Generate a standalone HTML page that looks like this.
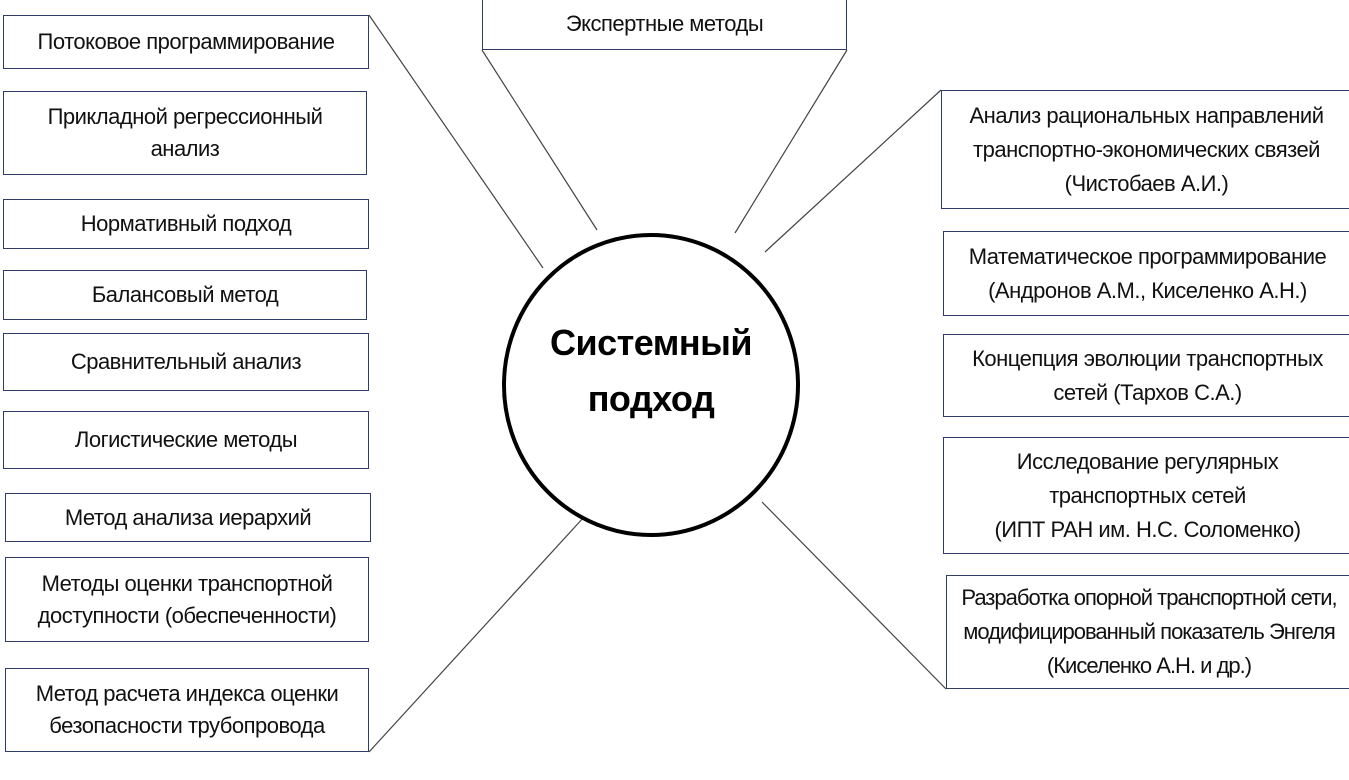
<!DOCTYPE html>
<html><head><meta charset="utf-8"><style>
body{margin:0;width:1349px;height:780px;background:#fff;position:relative;overflow:hidden;font-family:"Liberation Sans",Arial,sans-serif;}
.b{position:absolute;box-sizing:border-box;border:1.5px solid #2f3d66;background:#fff;display:flex;align-items:center;justify-content:center;text-align:center;font-size:22px;letter-spacing:-0.5px;line-height:32px;color:#111;}
.r{border-right:none;line-height:34px;}
svg{position:absolute;left:0;top:0;}
</style></head><body>
<svg width="1349" height="780">
<g stroke="#444" stroke-width="1.2">
<line x1="369" y1="15" x2="543" y2="268"/>
<line x1="482" y1="50" x2="597" y2="230"/>
<line x1="847" y1="50" x2="735" y2="233"/>
<line x1="941" y1="90" x2="765" y2="252"/>
<line x1="762" y1="502" x2="946" y2="689"/>
<line x1="584" y1="517" x2="369" y2="752"/>
</g>
<ellipse cx="651" cy="385" rx="147" ry="150" fill="#fff" stroke="#000" stroke-width="4"/>
<text x="651" y="355" text-anchor="middle" font-family="Liberation Sans, Arial, sans-serif" font-weight="bold" font-size="36" letter-spacing="-0.5">Системный</text>
<text x="651" y="411" text-anchor="middle" font-family="Liberation Sans, Arial, sans-serif" font-weight="bold" font-size="36" letter-spacing="-0.5">подход</text>
</svg>
<div class="b" style="left:3px;top:15px;width:366px;height:54px">Потоковое программирование</div>
<div class="b" style="left:3px;top:91px;width:364px;height:84px">Прикладной регрессионный<br>анализ</div>
<div class="b" style="left:3px;top:199px;width:366px;height:50px">Нормативный подход</div>
<div class="b" style="left:3px;top:270px;width:364px;height:50px">Балансовый метод</div>
<div class="b" style="left:3px;top:333px;width:366px;height:58px">Сравнительный анализ</div>
<div class="b" style="left:3px;top:411px;width:366px;height:58px">Логистические методы</div>
<div class="b" style="left:5px;top:493px;width:366px;height:49px">Метод анализа иерархий</div>
<div class="b" style="left:5px;top:557px;width:364px;height:85px">Методы оценки транспортной<br>доступности (обеспеченности)</div>
<div class="b" style="left:5px;top:668px;width:364px;height:84px">Метод расчета индекса оценки<br>безопасности трубопровода</div>
<div class="b" style="left:482px;top:-2px;width:365px;height:52px">Экспертные методы</div>
<div class="b r" style="left:941px;top:90px;width:410px;height:119px">Анализ рациональных направлений<br>транспортно-экономических связей<br>(Чистобаев А.И.)</div>
<div class="b r" style="left:943px;top:231px;width:408px;height:85px">Математическое программирование<br>(Андронов А.М., Киселенко А.Н.)</div>
<div class="b r" style="left:943px;top:334px;width:408px;height:83px">Концепция эволюции транспортных<br>сетей (Тархов С.А.)</div>
<div class="b r" style="left:943px;top:437px;width:408px;height:117px">Исследование регулярных<br>транспортных сетей<br>(ИПТ РАН им. Н.С. Соломенко)</div>
<div class="b r" style="left:946px;top:575px;width:405px;height:114px;letter-spacing:-1px">Разработка опорной транспортной сети,<br>модифицированный показатель Энгеля<br>(Киселенко А.Н. и др.)</div>
</body></html>
